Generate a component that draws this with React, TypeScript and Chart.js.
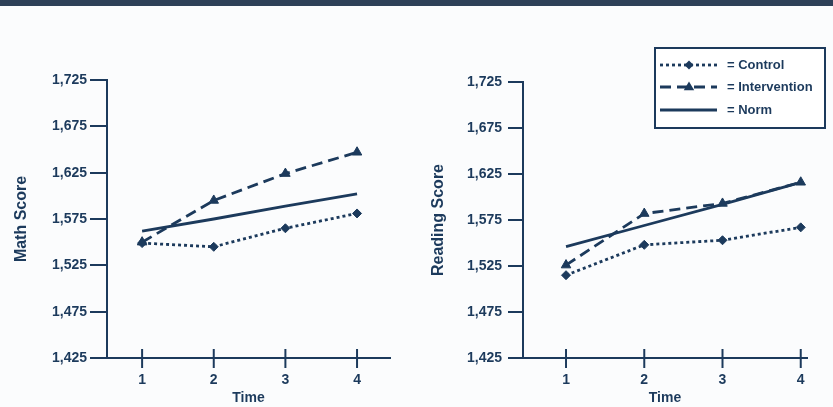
import React, { useEffect, useRef } from 'react';
import { Chart, registerables } from 'chart.js';

Chart.register(...registerables);

// ---- data ----
const times = [1, 2, 3, 4];
const yTickValues = [1425, 1475, 1525, 1575, 1625, 1675, 1725];
const seriesLabels = ['Control', 'Intervention', 'Norm'];

const mathControl = [1549, 1545, 1565, 1581];
const mathIntervention = [1550, 1595, 1624, 1647];
const mathNorm = [1562, 1575, 1589, 1602];

const readingControl = [1515, 1548, 1553, 1567];
const readingIntervention = [1526, 1582, 1593, 1616];
const readingNorm = [1546, 1569, 1592, 1616];

// ---- styles ----
const NAVY = '#1c3a5c';
const BG = '#fbfcfd';
const FONT = "'Liberation Sans', Arial, sans-serif";
const DASHES = [[3, 3], [11, 6], []];
const POINT_STYLES = ['rectRot', 'triangle', false];
const POINT_RADII = [4.5, 5.5, 0];

const xTickPlugin = {
  id: 'xTickMarks',
  afterDraw(chart: any) {
    const { ctx, chartArea } = chart;
    const x = chart.scales.x;
    ctx.save();
    ctx.strokeStyle = NAVY;
    ctx.lineWidth = 2;
    times.forEach((t) => {
      const px = x.getPixelForValue(t);
      ctx.beginPath();
      ctx.moveTo(px, chartArea.bottom - 9);
      ctx.lineTo(px, chartArea.bottom + 10);
      ctx.stroke();
    });
    ctx.restore();
  },
};

function drawMarker(ctx: CanvasRenderingContext2D, style: any, x: number, y: number, r: number) {
  if (!style) return;
  ctx.beginPath();
  if (style === 'rectRot') {
    ctx.moveTo(x, y - r);
    ctx.lineTo(x + r, y);
    ctx.lineTo(x, y + r);
    ctx.lineTo(x - r, y);
  } else {
    ctx.moveTo(x, y - r);
    ctx.lineTo(x + r * 0.95, y + r * 0.6);
    ctx.lineTo(x - r * 0.95, y + r * 0.6);
  }
  ctx.closePath();
  ctx.fill();
}

const legendPlugin = {
  id: 'boxLegend',
  afterDraw(chart: any) {
    const { ctx } = chart;
    const box = { x: 235, y: 48, w: 170, h: 80 };
    ctx.save();
    ctx.fillStyle = '#ffffff';
    ctx.fillRect(box.x, box.y, box.w, box.h);
    ctx.strokeStyle = NAVY;
    ctx.lineWidth = 2;
    ctx.strokeRect(box.x, box.y, box.w, box.h);
    const rows = [65, 87, 110];
    chart.data.datasets.forEach((ds: any, i: number) => {
      const y = rows[i];
      ctx.strokeStyle = NAVY;
      ctx.fillStyle = NAVY;
      ctx.lineWidth = 2.8;
      ctx.setLineDash(ds.borderDash || []);
      ctx.beginPath();
      ctx.moveTo(240, y);
      ctx.lineTo(297, y);
      ctx.stroke();
      ctx.setLineDash([]);
      drawMarker(ctx, ds.pointStyle, 269, y, ds.pointRadius);
      ctx.font = `bold 13px ${FONT}`;
      ctx.textBaseline = 'middle';
      ctx.textAlign = 'left';
      ctx.fillText('= ' + ds.label, 307, y);
    });
    ctx.restore();
  },
};

type PanelProps = {
  left: number;
  width: number;
  yTitle: string;
  series: number[][];
  xMin: number;
  xMax: number;
  padLeft: number;
  padTop: number;
  padRight: number;
  yWidth: number;
  yTickLen: number;
  yTickPad: number;
  legend?: boolean;
};

function Panel(p: PanelProps) {
  const ref = useRef<HTMLCanvasElement>(null);
  useEffect(() => {
    if (!ref.current) return;
    const datasets = p.series.map((vals, i) => ({
      label: seriesLabels[i],
      data: times.map((t, j) => ({ x: t, y: vals[j] })),
      borderColor: NAVY,
      backgroundColor: NAVY,
      borderWidth: 2.8,
      borderDash: DASHES[i],
      borderCapStyle: 'butt',
      pointStyle: POINT_STYLES[i],
      pointRadius: POINT_RADII[i],
      pointBackgroundColor: NAVY,
      pointBorderColor: NAVY,
      pointBorderWidth: 1,
      tension: 0,
      fill: false,
    }));
    const chart = new Chart(ref.current, {
      type: 'line',
      data: { datasets } as any,
      options: {
        animation: false,
        responsive: false,
        devicePixelRatio: 1,
        layout: { padding: { left: p.padLeft, top: p.padTop, right: p.padRight, bottom: 0 } },
        plugins: { legend: { display: false }, tooltip: { enabled: false } },
        scales: {
          x: {
            type: 'linear',
            min: p.xMin,
            max: p.xMax,
            afterBuildTicks: (s: any) => {
              s.ticks = times.map((v) => ({ value: v }));
            },
            afterFit: (s: any) => {
              s.height = 49;
            },
            grid: { display: true, drawOnChartArea: false, drawTicks: true, tickLength: 10, color: 'rgba(0,0,0,0)' },
            border: { display: true, color: NAVY, width: 2 },
            ticks: { color: NAVY, padding: 4, font: { family: FONT, size: 14, weight: 'bold' }, maxRotation: 0 },
            title: { display: true, text: 'Time', color: NAVY, padding: { top: 0, bottom: 0 }, font: { family: FONT, size: 14, weight: 'bold' } },
          },
          y: {
            type: 'linear',
            min: yTickValues[0],
            max: yTickValues[yTickValues.length - 1],
            afterBuildTicks: (s: any) => {
              s.ticks = yTickValues.map((v) => ({ value: v }));
            },
            afterFit: (s: any) => {
              s.width = p.yWidth;
            },
            grid: { display: true, drawOnChartArea: false, drawTicks: true, tickLength: p.yTickLen, color: NAVY, lineWidth: 2 },
            border: { display: true, color: NAVY, width: 2 },
            ticks: {
              color: NAVY,
              padding: p.yTickPad,
              font: { family: FONT, size: 14, weight: 'bold' },
              callback: (v: any) => Number(v).toLocaleString('en-US'),
            },
            title: { display: true, text: p.yTitle, color: NAVY, padding: { top: 0, bottom: 0 }, font: { family: FONT, size: 16, weight: 'bold' } },
          },
        },
      } as any,
      plugins: p.legend ? [xTickPlugin, legendPlugin] : [xTickPlugin],
    });
    return () => chart.destroy();
  }, []);
  return (
    <canvas
      ref={ref}
      width={p.width}
      height={407}
      style={{ position: 'absolute', left: p.left, top: 0, width: p.width, height: 407 }}
    />
  );
}

export default function App() {
  useEffect(() => {
    document.body.style.margin = '0';
  }, []);
  return (
    <div style={{ position: 'relative', width: 833, height: 407, background: BG, overflow: 'hidden' }}>
      <Panel
        left={0}
        width={420}
        yTitle="Math Score"
        series={[mathControl, mathIntervention, mathNorm]}
        xMin={0.51}
        xMax={4.46}
        padLeft={12}
        padTop={80}
        padRight={30}
        yWidth={95}
        yTickLen={17}
        yTickPad={3}
      />
      <Panel
        left={420}
        width={413}
        yTitle="Reading Score"
        series={[readingControl, readingIntervention, readingNorm]}
        xMin={0.45}
        xMax={4.08}
        padLeft={9}
        padTop={82}
        padRight={26}
        yWidth={94}
        yTickLen={15}
        yTickPad={6}
        legend
      />
      <div style={{ position: 'absolute', left: 0, top: 0, width: 833, height: 6, background: '#2e4058', zIndex: 2 }} />
    </div>
  );
}
